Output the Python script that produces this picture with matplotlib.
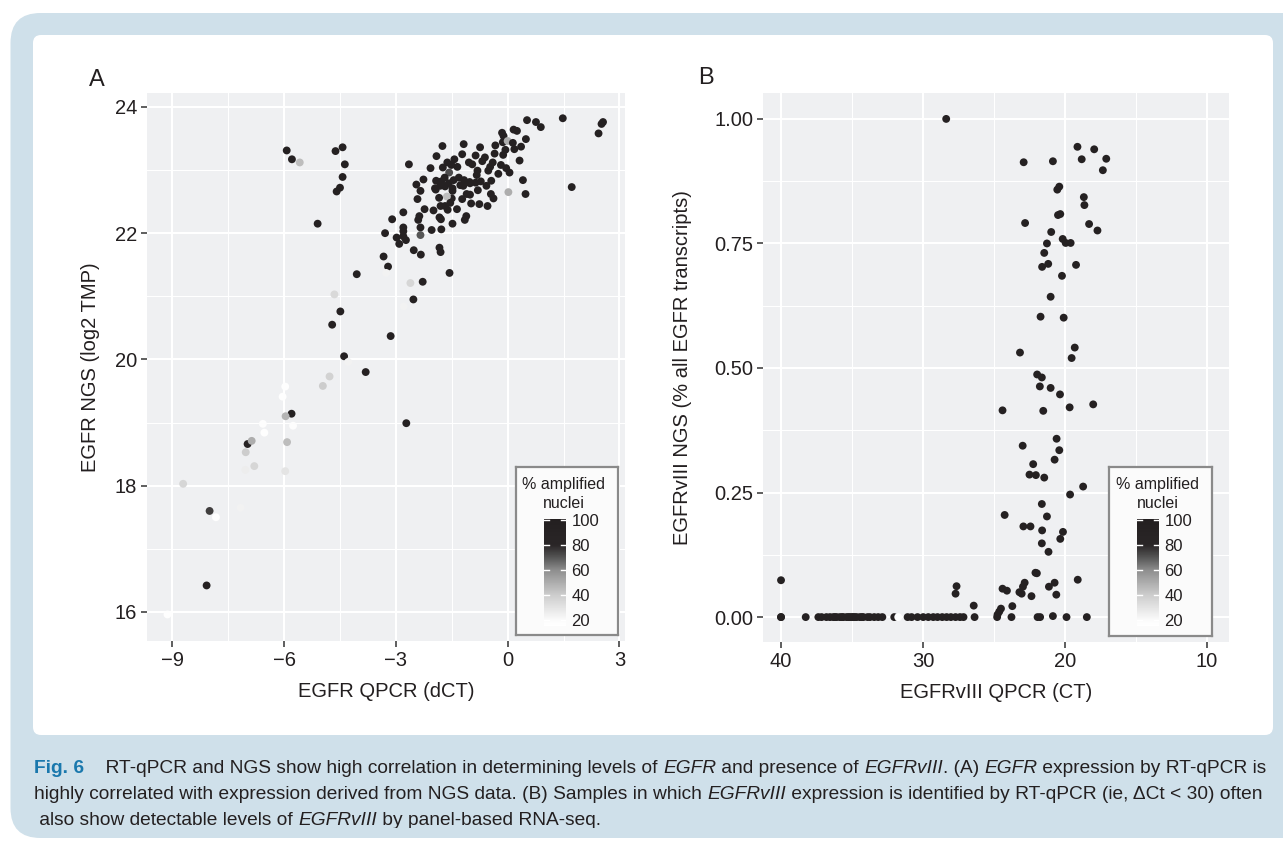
import matplotlib
matplotlib.use('Agg')
import matplotlib.pyplot as plt
from matplotlib.colors import LinearSegmentedColormap
from matplotlib.patches import FancyBboxPatch
from matplotlib.transforms import Bbox, TransformedBbox

plt.rcParams['font.family'] = ['Liberation Sans', 'DejaVu Sans']

# ---- panel A: EGFR dCT vs NGS, colour = % amplified nuclei
a_dct = [0.52, 0.76, 0.89, 1.48, 2.56, 2.52, 2.44, 1.72, 0.48, 0.02, 0.41, 0.32, 0.49, 0.36,
         0.16, 0.25, -0.15, -0.11, -0.13, 0.0, 0.14, 0.18, -0.06, -0.12, -0.33, -0.35, -0.74,
         -1.18, -1.75, -1.22, -0.86, -0.61, -0.68, -0.40, -0.18, -0.04, 0.05, -0.25, -0.52,
         -0.47, -1.04, -0.95, -0.81, -0.83, -1.02, -1.17, -1.31, -1.51, -1.43, -1.62, -1.35,
         -1.74, -1.91, -2.07, -2.65, -1.57, -1.69, -1.45, -1.58, -1.78, -1.92, -1.95, -1.81,
         -1.68, -1.48, -1.27, -1.19, -1.01, -0.86, -0.72, -0.80, -1.01, -1.10, -0.57, -0.44,
         -0.45, -0.38, -0.76, -0.54, -0.98, -1.22, -1.48, -1.50, -1.63, -1.84, -1.80, -1.68,
         -1.54, -1.36, -1.61, -2.26, -2.45, -2.34, -1.93, -2.42, -2.23, -1.99, -2.80, -3.10,
         -2.37, -2.40, -1.83, -1.79, -1.48, -1.15, -1.11, -2.34, -2.04, -1.78, -2.34, -2.80,
         -2.80, -2.80, -2.98, -2.73, -2.91, -3.29, -1.83, -1.80, -2.52, -2.33, -3.33, -3.21,
         -5.93, -5.79, -5.58, -4.62, -4.43, -4.37, -4.43, -4.50, -4.59, -5.10, -4.05, -3.26,
         -2.61, -2.28, -2.53, -2.79, -1.56, -3.14, -4.65, -4.49, -4.71, -4.39, -4.28, -3.81,
         -4.78, -4.96, -5.97, -5.80, -5.96, -6.04, -6.57, -6.53, -5.76, -6.98, -6.87, -7.03,
         -6.80, -7.04, -5.92, -5.97, -2.72, -8.71, -8.00, -7.83, -7.17, -8.08, -9.13]
a_ngs = [23.79, 23.76, 23.68, 23.82, 23.76, 23.73, 23.58, 22.73, 22.62, 22.65, 22.84, 23.15,
         23.49, 23.37, 23.64, 23.62, 23.59, 23.54, 23.44, 23.46, 23.43, 23.33, 23.32, 23.24,
         23.39, 23.26, 23.36, 23.41, 23.38, 23.25, 23.23, 23.20, 23.14, 23.12, 23.08, 23.03,
         22.96, 22.94, 22.99, 23.05, 23.12, 23.09, 22.99, 22.92, 22.81, 22.84, 22.88, 23.08,
         23.17, 23.12, 23.05, 23.04, 23.22, 23.03, 23.09, 22.96, 22.88, 22.84, 22.79, 22.82,
         22.83, 22.71, 22.75, 22.74, 22.71, 22.76, 22.75, 22.79, 22.80, 22.82, 22.68, 22.61,
         22.62, 22.75, 22.83, 22.62, 22.55, 22.46, 22.43, 22.47, 22.54, 22.67, 22.55, 22.58,
         22.56, 22.43, 22.43, 22.48, 22.38, 22.37, 22.85, 22.77, 22.67, 22.69, 22.54, 22.38,
         22.36, 22.33, 22.22, 22.27, 22.21, 22.25, 22.22, 22.15, 22.21, 22.27, 22.09, 22.05,
         22.06, 21.97, 22.09, 22.03, 21.95, 21.93, 21.89, 21.83, 22.00, 21.77, 21.70, 21.73,
         21.66, 21.63, 21.47, 23.31, 23.17, 23.12, 23.30, 23.36, 23.09, 22.89, 22.72, 22.66,
         22.15, 21.35, 21.37, 21.21, 21.23, 20.95, 20.84, 21.37, 20.37, 21.03, 20.76, 20.55,
         20.05, 19.96, 19.80, 19.73, 19.58, 19.57, 19.14, 19.10, 19.41, 18.98, 18.84, 18.95,
         18.66, 18.71, 18.53, 18.31, 18.25, 18.69, 18.23, 18.99, 18.03, 17.60, 17.50, 17.65,
         16.42, 15.96]
a_pct = [95, 95, 95, 95, 95, 95, 95, 95, 95, 50, 95, 95, 95, 95, 95, 95, 95, 95, 95, 50,
         95, 95, 95, 95, 95, 95, 95, 95, 95, 95, 95, 95, 95, 95, 95, 95, 95, 95, 95, 95,
         95, 95, 95, 95, 95, 95, 95, 95, 95, 95, 95, 95, 95, 95, 95, 72, 95, 95, 95, 95,
         95, 95, 95, 95, 95, 95, 95, 95, 95, 95, 95, 95, 95, 95, 95, 95, 95, 95, 95, 95,
         95, 95, 95, 45, 95, 95, 95, 95, 95, 95, 95, 95, 95, 95, 95, 95, 95, 95, 95, 95,
         95, 95, 95, 95, 95, 95, 95, 95, 95, 70, 95, 95, 95, 95, 95, 95, 95, 95, 95, 95,
         95, 95, 95, 95, 95, 45, 95, 95, 95, 95, 95, 95, 95, 95, 24, 36, 95, 95, 24, 95,
         95, 35, 95, 95, 95, 24, 95, 38, 40, 17, 95, 48, 17, 18, 17, 18, 90, 50, 40, 36,
         26, 45, 30, 95, 36, 75, 17, 24, 95, 17]

# ---- panel B: EGFRvIII CT vs fraction of EGFR transcripts
b_ct = [28.36, 19.11, 17.93, 22.90, 20.84, 18.81, 17.08, 17.32, 20.39, 20.53, 18.66, 18.62,
        20.32, 20.48, 22.80, 18.29, 17.70, 20.96, 20.15, 19.94, 19.59, 21.26, 21.45, 21.17,
        21.60, 19.21, 20.20, 21.00, 21.71, 20.08, 23.16, 19.30, 19.52, 21.95, 21.62, 21.76,
        21.00, 20.34, 24.39, 21.52, 19.66, 18.00, 20.58, 22.97, 20.39, 20.72, 22.23, 22.49,
        22.04, 21.45, 18.71, 19.63, 21.62, 24.24, 21.26, 22.92, 22.42, 21.60, 20.13, 20.32,
        21.62, 21.15, 22.07, 21.97, 22.83, 22.95, 24.39, 24.08, 23.20, 23.04, 22.35, 21.12,
        20.72, 20.60, 19.09, 26.42, 23.70, 24.50, 24.62, 24.74, 20.84, 40.00, 27.63, 27.70,
        40.00, 40.00, 38.26, 37.56, 37.37, 37.14, 36.80, 36.55, 36.31, 36.20, 36.08, 35.85,
        35.70, 35.61, 35.38, 35.25, 35.14, 35.00, 34.91, 34.80, 34.67, 34.44, 34.30, 34.20,
        33.90, 33.73, 33.43, 33.15, 32.86, 32.02, 31.74, 31.08, 30.80, 30.38, 29.98, 29.62,
        29.27, 28.97, 28.64, 28.33, 28.03, 27.70, 27.39, 27.14, 26.36, 24.77, 23.76, 21.92,
        21.74, 19.88, 18.45]
b_frac = [1.000, 0.944, 0.939, 0.913, 0.915, 0.919, 0.920, 0.897, 0.864, 0.858, 0.843, 0.827,
          0.809, 0.807, 0.791, 0.789, 0.776, 0.773, 0.759, 0.751, 0.751, 0.750, 0.731, 0.709,
          0.703, 0.707, 0.685, 0.643, 0.603, 0.601, 0.531, 0.541, 0.520, 0.487, 0.481, 0.463,
          0.460, 0.447, 0.415, 0.414, 0.421, 0.427, 0.358, 0.344, 0.335, 0.316, 0.307, 0.286,
          0.285, 0.280, 0.262, 0.246, 0.227, 0.205, 0.202, 0.182, 0.182, 0.174, 0.171, 0.157,
          0.148, 0.131, 0.089, 0.088, 0.069, 0.061, 0.057, 0.053, 0.050, 0.047, 0.042, 0.061,
          0.069, 0.045, 0.075, 0.023, 0.022, 0.017, 0.011, 0.005, 0.002, 0.074, 0.062, 0.047,
          0.0, 0.0, 0.0, 0.0, 0.0, 0.0, 0.0, 0.0, 0.0, 0.0, 0.0, 0.0,
          0.0, 0.0, 0.0, 0.0, 0.0, 0.0, 0.0, 0.0, 0.0, 0.0, 0.0, 0.0,
          0.0, 0.0, 0.0, 0.0, 0.0, 0.0, 0.0, 0.0, 0.0, 0.0, 0.0, 0.0,
          0.0, 0.0, 0.0, 0.0, 0.0, 0.0, 0.0, 0.0, 0.0, 0.0, 0.0, 0.0,
          0.0, 0.0, 0.0]
b_pct = [95] * len(b_ct)
b_pct[87] = 22   # faint points on the zero row
b_pct[114] = 17

legend_ticks = [20, 40, 60, 80, 100]

W, H = 1283, 841
fig = plt.figure(figsize=(W / 100, H / 100), dpi=100)
fig.patch.set_facecolor('white')

def fx(px):
    return px / W

def fy(py):
    return 1 - py / H

# blue frame and white inner panel
bg = fig.add_axes([0, 0, 1, 1], zorder=-10)
bg.set_xlim(0, W)
bg.set_ylim(H, 0)
bg.axis('off')
bg.add_patch(FancyBboxPatch((10.5, 13), 1320, 825, boxstyle='round,pad=0,rounding_size=30',
                            fc='#cfe0ea', ec='none'))
bg.add_patch(FancyBboxPatch((33, 35), 1240, 700, boxstyle='round,pad=0,rounding_size=8',
                            fc='white', ec='none'))

vmin, vmax = 15.5, 101
def nrm(v):
    return (v - vmin) / (vmax - vmin)
cmap = LinearSegmentedColormap.from_list('amp', [
    (0, '#ffffff'), (nrm(20), '#fbfbfb'), (nrm(40), '#cdcdcd'), (nrm(60), '#8e8e8e'),
    (nrm(70), '#575757'), (nrm(80), '#2a2627'), (1, '#231f20')])

panel_bg = '#eff0f2'
txt_col = '#231f20'


def style_axes(ax):
    ax.set_facecolor(panel_bg)
    for s in ax.spines.values():
        s.set_visible(False)
    ax.grid(which='major', color='white', lw=1.5)
    ax.grid(which='minor', color='white', lw=0.8)
    ax.set_axisbelow(True)
    ax.tick_params(which='major', length=4, width=1.1, color='#333333',
                   labelsize=14.5, labelcolor=txt_col, pad=3)
    ax.tick_params(which='minor', length=0)


def legend_box(x0, y0, x1, y1, cx, bar):
    lax = fig.add_axes([fx(x0), fy(y1), fx(x1 - x0), (y1 - y0) / H], zorder=4)
    lax.set_xticks([])
    lax.set_yticks([])
    lax.set_facecolor('#fbfbfb')
    for s in lax.spines.values():
        s.set_color('#8a8a8a')
        s.set_linewidth(1.6)
    fig.text(fx(cx), fy(y0 + 18), '% amplified', ha='center', va='center',
             fontsize=11.5, color=txt_col, zorder=6)
    fig.text(fx(cx), fy(y0 + 36), 'nuclei', ha='center', va='center',
             fontsize=11.5, color=txt_col, zorder=6)
    bx0, by0, bx1, by1 = bar
    cax = fig.add_axes([fx(bx0), fy(by1), fx(bx1 - bx0), (by1 - by0) / H], zorder=5)
    cb = fig.colorbar(sc_a, cax=cax, ticks=legend_ticks)
    cb.outline.set_visible(False)
    cax.tick_params(length=0, labelsize=12, labelcolor=txt_col, pad=4)
    tr = cax.get_yaxis_transform()
    for v in legend_ticks:
        cax.plot([0, 0.22], [v, v], color='white', lw=1, transform=tr)
        cax.plot([0.78, 1], [v, v], color='white', lw=1, transform=tr)


# ---- panel A
axA = fig.add_axes([fx(147), fy(641), fx(625 - 147), (641 - 93) / H])
style_axes(axA)
sc_a = axA.scatter(a_dct, a_ngs, c=a_pct, cmap=cmap, vmin=vmin, vmax=vmax, s=32,
                   linewidths=0, zorder=3)
axA.set_xlim(-9.68, 3.15)
axA.set_ylim(15.54, 24.22)
axA.set_xticks([-9, -6, -3, 0, 3])
axA.set_xticks([-7.5, -4.5, -1.5, 1.5], minor=True)
axA.set_yticks([16, 18, 20, 22, 24])
axA.set_yticks([17, 19, 21, 23], minor=True)
axA.set_xlabel('EGFR QPCR (dCT)', fontsize=14.5, color=txt_col, labelpad=9)
axA.set_ylabel('EGFR NGS (log2 TMP)', fontsize=14.5, color=txt_col, labelpad=11)
fig.text(fx(97), fy(80), 'A', fontsize=17, ha='center', va='center', color=txt_col)
legend_box(516, 467, 618, 635, 564, (544, 519, 566, 626))

# ---- panel B
axB = fig.add_axes([fx(763), fy(642), fx(1229 - 763), (642 - 93) / H])
style_axes(axB)
axB.scatter(b_ct, b_frac, c=b_pct, cmap=cmap, vmin=vmin, vmax=vmax, s=32,
            linewidths=0, zorder=3)
axB.set_xlim(41.27, 8.43)
axB.set_ylim(-0.05, 1.052)
axB.set_xticks([40, 30, 20, 10])
axB.set_xticks([35, 25, 15], minor=True)
axB.set_yticks([0, 0.25, 0.5, 0.75, 1.0])
axB.set_yticklabels(['0.00', '0.25', '0.50', '0.75', '1.00'])
axB.set_yticks([0.125, 0.375, 0.625, 0.875], minor=True)
axB.set_xlabel('EGFRvIII QPCR (CT)', fontsize=14.5, color=txt_col, labelpad=9)
axB.set_ylabel('EGFRvIII NGS (% all EGFR transcripts)', fontsize=14.5, color=txt_col,
               labelpad=16)
fig.text(fx(706), fy(78), 'B', fontsize=17, ha='center', va='center', color=txt_col)
legend_box(1109, 467, 1212, 636, 1158, (1137, 519, 1159, 626))

# ---- caption
cap_font = ['Liberation Sans', 'DejaVu Sans']
renderer = fig.canvas.get_renderer()

line1 = [('Fig. 6', 'fig'), ('    RT-qPCR and NGS show high correlation in determining levels of ', 'n'),
         ('EGFR', 'i'), (' and presence of ', 'n'), ('EGFRvIII', 'i'), ('. (A) ', 'n'),
         ('EGFR', 'i'), (' expression by RT-qPCR is', 'n')]
line2 = [('highly correlated with expression derived from NGS data. (B) Samples in which ', 'n'),
         ('EGFRvIII', 'i'), (' expression is identified by RT-qPCR (ie, \u0394Ct < 30) often', 'n')]
line3 = [(' also show detectable levels of ', 'n'), ('EGFRvIII', 'i'),
         (' by panel-based RNA-seq.', 'n')]

# the source crop cuts the last caption line just below its baseline
cut = TransformedBbox(Bbox([[0, fy(828)], [1, 1]]), fig.transFigure)


def seg_kw(kind):
    if kind == 'fig':
        return dict(color='#1a78ad', fontweight='bold')
    if kind == 'i':
        return dict(color=txt_col, fontstyle='italic')
    return dict(color=txt_col)


def draw_line(segs, x0, yb, size, keep=True, clip=False):
    x = x0
    made = []
    for s, kind in segs:
        t = fig.text(fx(x), fy(yb), s, fontsize=size, family=cap_font, ha='left',
                     va='baseline', **seg_kw(kind))
        if clip:
            t.set_clip_box(cut)
            t.set_clip_on(True)
        x += t.get_window_extent(renderer=renderer).width
        made.append(t)
    if not keep:
        for t in made:
            t.remove()
    return x - x0


base = 12.5
sizes = []
for segs, target in [(line1, 1236), (line2, 1234)]:
    w = draw_line(segs, 34, 700, base, keep=False)
    sizes.append(base * target / w)
draw_line(line1, 34, 773, sizes[0])
draw_line(line2, 34, 799, sizes[1])
draw_line(line3, 34, 825, sum(sizes) / 2, clip=True)

fig.savefig('out.png', dpi=100)
